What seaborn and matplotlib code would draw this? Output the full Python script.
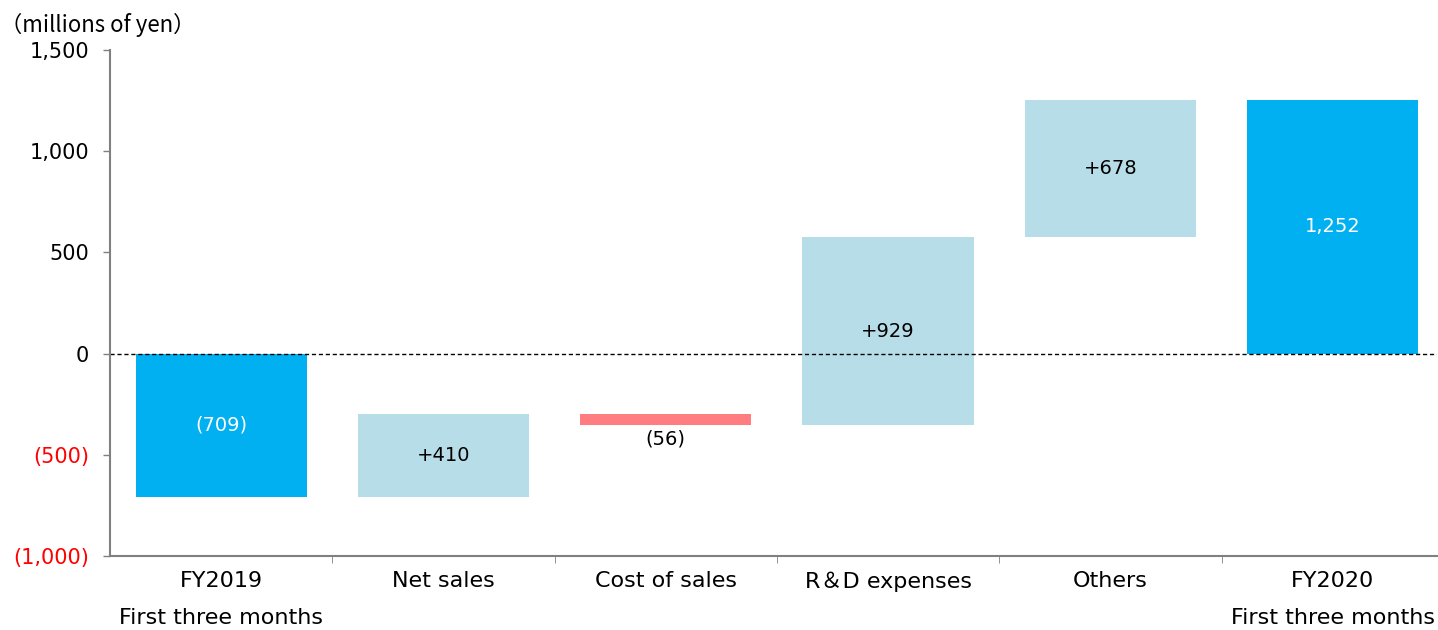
import numpy as np
import pandas as pd
import seaborn as sns
import matplotlib.pyplot as plt

categories = ['FY2019\nFirst three months', 'Net sales', 'Cost of sales',
              'R\uff06D expenses', 'Others', 'FY2020\nFirst three months']
changes = [-709, 410, -56, 929, 678, 1252]
labels = ['(709)', '+410', '(56)', '+929', '+678', '1,252']
kinds = ['total', 'up', 'down', 'up', 'up', 'total']
yticks = [1500, 1000, 500, 0, -500, -1000]
yticklabels = ['1,500', '1,000', '500', '0', '(500)', '(1,000)']

# waterfall: bottoms / heights
bottoms, heights = [], []
run = 0
for c, k in zip(changes, kinds):
    if k == 'total':
        bottoms.append(0)
        heights.append(c)
        run = c
    else:
        bottoms.append(run)
        heights.append(c)
        run += c

df = pd.DataFrame({'cat': categories, 'height': heights, 'bottom': bottoms})
colors = {'total': '#00B0F0', 'up': '#B7DEE8', 'down': '#FF7C80'}

sns.set_style('white')
plt.rcParams['font.family'] = ['DejaVu Sans', 'Noto Sans CJK JP']
plt.rcParams['text.color'] = 'black'
plt.rcParams['xtick.color'] = 'black'
plt.rcParams['ytick.color'] = 'black'

fig = plt.figure(figsize=(14.38, 6.30), dpi=100)
ax = fig.add_axes([0.0765, 0.1175, 0.9229, 0.803])

sns.barplot(data=df, x='cat', y='height', bottom=df['bottom'].values,
            width=0.77, color='#00B0F0', ax=ax, saturation=1)
for p, k in zip(ax.patches, kinds):
    p.set_facecolor(colors[k])
    p.set_edgecolor('none')

for i, (b, h, lab, k) in enumerate(zip(bottoms, heights, labels, kinds)):
    tc = 'white' if k == 'total' else 'black'
    if k == 'down':
        ax.text(i, b + h - 22, lab, ha='center', va='top', fontsize=14, color=tc)
    else:
        ax.text(i, b + h / 2, lab, ha='center', va='center', fontsize=14, color=tc)

ax.axhline(0, color='black', linestyle='--', linewidth=1, dashes=(3, 2))

ax.set_ylim(-1000, 1500)
ax.set_xlim(-0.5, 5.47)
ax.set_yticks(yticks)
ax.set_yticklabels(yticklabels, fontsize=15)
for t, v in zip(ax.get_yticklabels(), yticks):
    t.set_color('red' if v < 0 else 'black')

ax.set_xticks(range(len(categories)))
ax.set_xticklabels(categories, fontsize=16, linespacing=2.05, va='top')
ax.tick_params(axis='x', length=0, pad=11)
ax.tick_params(axis='y', length=5, width=1, color='#808080', direction='out', pad=10, left=True)
ax.set_xticks(np.arange(0.5, 5.5, 1), minor=True)
ax.tick_params(axis='x', which='minor', length=5, color='#808080', bottom=True)

ax.set_xlabel('')
ax.set_ylabel('')
for s in ['top', 'right']:
    ax.spines[s].set_visible(False)
for s in ['left', 'bottom']:
    ax.spines[s].set_color('#808080')
    ax.spines[s].set_linewidth(1.5)

fig.text(0.0, 0.96, '\uff08millions of yen\uff09', fontsize=16, ha='left', va='center',
         family=['Noto Sans CJK JP', 'DejaVu Sans'])

fig.savefig('out.png', dpi=100)
